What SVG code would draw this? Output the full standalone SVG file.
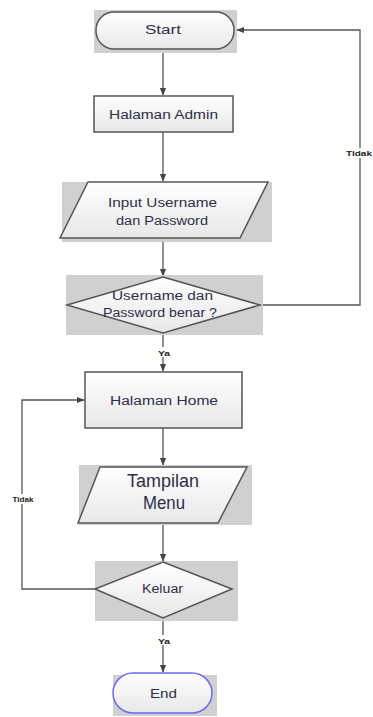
<svg xmlns="http://www.w3.org/2000/svg" width="373" height="717" viewBox="0 0 373 717">
<style>
.bg{fill:#d0d0d0}
.sh{fill:url(#g);stroke:#555;stroke-width:1.5}
.t{font-family:"Liberation Sans",Arial,sans-serif;font-size:12.5px;fill:#2e2e4a;text-anchor:middle}
.big{font-size:18px}
.lbl{font-family:"Liberation Sans",Arial,sans-serif;font-size:8px;font-weight:bold;fill:#222;text-anchor:middle}
.c{fill:none;stroke:#555;stroke-width:1.3}
</style>
<defs>
<linearGradient id="g" x1="0" y1="0" x2="0" y2="1"><stop offset="0" stop-color="#ffffff"/><stop offset="1" stop-color="#e8e8e8"/></linearGradient>
<marker id="a" viewBox="0 0 10 10" refX="9" refY="5" markerWidth="6" markerHeight="6" orient="auto"><path d="M0,1 L10,5 L0,9 z" fill="#444"/></marker>
</defs>
<g id="connectors">
<line class="c" x1="163" y1="50" x2="163" y2="95" marker-end="url(#a)"/>
<line class="c" x1="163" y1="132" x2="163" y2="181" marker-end="url(#a)"/>
<line class="c" x1="163" y1="238" x2="163" y2="276" marker-end="url(#a)"/>
<polyline class="c" points="260,305 360,305 360,30 237,30" marker-end="url(#a)"/>
<line class="c" x1="163" y1="334" x2="163" y2="371" marker-end="url(#a)"/>
<line class="c" x1="163" y1="428" x2="163" y2="465" marker-end="url(#a)"/>
<line class="c" x1="163" y1="524" x2="163" y2="561" marker-end="url(#a)"/>
<polyline class="c" points="95,589 22,589 22,400 84,400" marker-end="url(#a)"/>
<line class="c" x1="163" y1="618" x2="163" y2="672" marker-end="url(#a)"/>
<rect x="345" y="148" width="29" height="10" fill="#fff"/>
<text class="lbl" x="359" y="156" textLength="26" lengthAdjust="spacingAndGlyphs">Tidak</text>
<rect x="155" y="347" width="16" height="10" fill="#fff"/>
<text class="lbl" x="164" y="356" textLength="12" lengthAdjust="spacingAndGlyphs">Ya</text>
<rect x="9" y="494" width="26" height="10" fill="#fff"/>
<text class="lbl" x="23" y="502" textLength="21" lengthAdjust="spacingAndGlyphs">Tidak</text>
<rect x="155" y="635" width="16" height="10" fill="#fff"/>
<text class="lbl" x="164" y="644" textLength="12" lengthAdjust="spacingAndGlyphs">Ya</text>
</g>
<g id="start">
<rect class="bg" x="94" y="10" width="143" height="43"/>
<rect class="sh" x="96" y="12" width="138" height="37" rx="18" ry="18"/>
<text class="t" x="163" y="34" textLength="36" lengthAdjust="spacingAndGlyphs">Start</text>
</g>
<g id="halaman-admin">
<rect class="sh" x="94" y="96" width="139" height="36"/>
<text class="t" x="163.5" y="119" textLength="109" lengthAdjust="spacingAndGlyphs">Halaman Admin</text>
</g>
<g id="input">
<rect class="bg" x="62" y="182" width="210" height="60"/>
<polygon class="sh" points="88,182 268,182 240,238 60,238"/>
<text class="t" x="162.5" y="207" textLength="109" lengthAdjust="spacingAndGlyphs">Input Username</text>
<text class="t" x="162" y="225" textLength="92" lengthAdjust="spacingAndGlyphs">dan Password</text>
</g>
<g id="cek-login">
<rect class="bg" x="66" y="275" width="197" height="60"/>
<polygon class="sh" points="163,277 260,305 163,333 67,305"/>
<text class="t" x="162.5" y="300" textLength="101" lengthAdjust="spacingAndGlyphs">Username dan</text>
<text class="t" x="160" y="317" textLength="114" lengthAdjust="spacingAndGlyphs">Password benar ?</text>
</g>
<g id="halaman-home">
<rect class="sh" x="85" y="372" width="157" height="56"/>
<text class="t" x="164" y="405" textLength="108" lengthAdjust="spacingAndGlyphs">Halaman Home</text>
</g>
<g id="tampilan-menu">
<rect class="bg" x="79" y="465" width="173" height="60"/>
<polygon class="sh" points="100,467 247,467 218,523 78,523"/>
<text class="t big" x="163" y="487" textLength="72" lengthAdjust="spacingAndGlyphs">Tampilan</text>
<text class="t big" x="164" y="509" textLength="42" lengthAdjust="spacingAndGlyphs">Menu</text>
</g>
<g id="keluar">
<rect class="bg" x="95" y="561" width="143" height="60"/>
<polygon class="sh" points="163,562 232,589 163,618 95,589"/>
<text class="t" x="162.5" y="593" textLength="41" lengthAdjust="spacingAndGlyphs">Keluar</text>
</g>
<g id="end">
<rect class="bg" x="113" y="675" width="104" height="41"/>
<rect x="113" y="673" width="99" height="40" rx="20" ry="20" fill="url(#g)" stroke="#6b6bef" stroke-width="1.5"/>
<text class="t" x="163.5" y="698" textLength="27" lengthAdjust="spacingAndGlyphs">End</text>
</g>
</svg>
